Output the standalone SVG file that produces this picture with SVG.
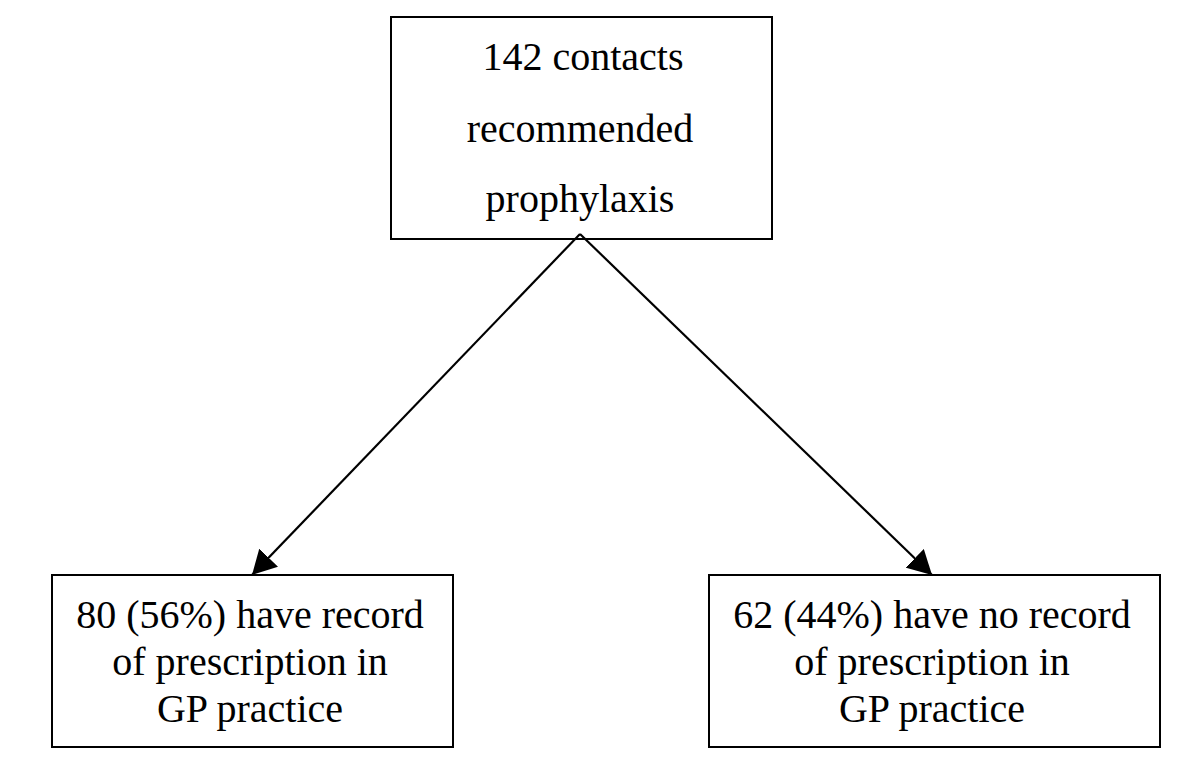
<svg xmlns="http://www.w3.org/2000/svg" width="1198" height="777" viewBox="0 0 1198 777">
<defs>
<style>
.box{fill:#fff;stroke:#000;stroke-width:2}
.t{font-family:"Liberation Serif","Times New Roman",serif;font-size:40px;fill:#000;text-anchor:middle}
.c{stroke:#000;stroke-width:2.2;fill:none;marker-end:url(#ah)}
</style>
<marker id="ah" viewBox="0 0 24 26" refX="24" refY="13" markerWidth="24" markerHeight="26" markerUnits="userSpaceOnUse" orient="auto">
<path d="M0,0 L24,13 L0,26 z" fill="#000"/>
</marker>
</defs>
<rect width="1198" height="777" fill="#fff"/>
<g id="top">
<rect class="box" x="391" y="17" width="381" height="222"/>
<text class="t" x="583" y="70">142 contacts</text>
<text class="t" x="580" y="142">recommended</text>
<text class="t" x="580" y="212">prophylaxis</text>
</g>
<g id="left">
<rect class="box" x="52" y="575" width="401" height="172"/>
<text class="t" x="250" y="628">80 (56%) have record</text>
<text class="t" x="250" y="675">of prescription in</text>
<text class="t" x="250" y="722">GP practice</text>
</g>
<g id="right">
<rect class="box" x="709" y="575" width="451" height="172"/>
<text class="t" x="932" y="628">62 (44%) have no record</text>
<text class="t" x="932" y="675">of prescription in</text>
<text class="t" x="932" y="722">GP practice</text>
</g>
<g id="connectors">
<path class="c" d="M580,234 L252,575"/>
<path class="c" d="M580,234 L932,575"/>
</g>
</svg>
